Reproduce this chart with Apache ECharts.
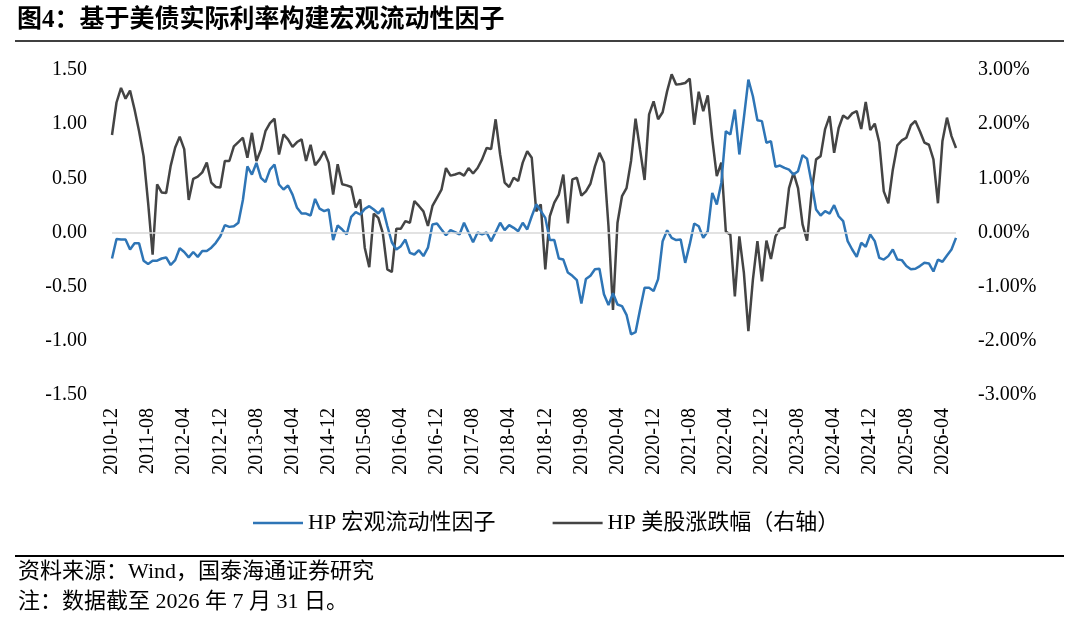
<!DOCTYPE html>
<html>
<head>
<meta charset="utf-8">
<title>图4：基于美债实际利率构建宏观流动性因子</title>
<script src="https://cdn.jsdelivr.net/npm/echarts@6/dist/echarts.min.js"></script>
<style>
  html, body { margin: 0; padding: 0; background: #fff; }
  #chart { width: 1080px; height: 621px; }
</style>
</head>
<body>
<div id="chart"></div>
<script>
// month categories 2010-12 .. 2026-07
const startYear = 2010, startMonth = 12;
const endYear = 2026, endMonth = 7;
const months = [];
for (let y = startYear, m = startMonth; y < endYear || (y === endYear && m <= endMonth); ) {
  months.push(y + '-' + (m < 10 ? '0' + m : m));
  m++;
  if (m > 12) { m = 1; y++; }
}

// HP 宏观流动性因子 (left axis)
const liquidityFactor = [
  -0.24, -0.06, -0.065, -0.065, -0.157, -0.10, -0.10, -0.26, -0.29, -0.26,
  -0.26, -0.24, -0.23, -0.30, -0.255, -0.145, -0.18, -0.23, -0.18, -0.225,
  -0.17, -0.17, -0.14, -0.095, -0.035, 0.068, 0.052, 0.058, 0.09, 0.30,
  0.61, 0.535, 0.643, 0.505, 0.465, 0.58, 0.628, 0.443, 0.397, 0.434,
  0.35, 0.228, 0.175, 0.175, 0.157, 0.31, 0.22, 0.197, 0.212, -0.07,
  0.065, 0.028, -0.018, 0.145, 0.188, 0.166, 0.218, 0.243, 0.212, 0.175,
  0.225, 0.06, -0.09, -0.157, -0.126, -0.065, -0.188, -0.203, -0.163, -0.218,
  -0.14, 0.074, 0.083, 0.028, -0.025, 0.022, 0.003, -0.018, 0.09, 0.0,
  -0.09, 0.0, -0.018, 0.0, -0.08, 0.003, 0.09, 0.022, 0.068, 0.043,
  0.012, 0.09, 0.028, 0.15, 0.26, 0.20, 0.135, -0.07, -0.07, -0.24,
  -0.25, -0.37, -0.40, -0.44, -0.655, -0.43, -0.40, -0.34, -0.335, -0.57,
  -0.67, -0.56, -0.665, -0.68, -0.76, -0.94, -0.92, -0.71, -0.51, -0.51,
  -0.54, -0.43, -0.08, 0.02, -0.05, -0.07, -0.065, -0.28, -0.11, 0.083,
  0.058, -0.05, 0.012, 0.366, 0.258, 0.458, 0.935, 0.905, 1.135, 0.72,
  1.058, 1.412, 1.258, 1.037, 1.028, 0.828, 0.843, 0.606, 0.618, 0.597,
  0.58, 0.535, 0.566, 0.714, 0.68, 0.458, 0.212, 0.157, 0.197, 0.175,
  0.252, 0.15, 0.105, -0.08, -0.157, -0.225, -0.095, -0.132, -0.018, -0.08,
  -0.234, -0.25, -0.218, -0.157, -0.25, -0.255, -0.31, -0.34, -0.335, -0.31,
  -0.28, -0.286, -0.36, -0.25, -0.27, -0.212, -0.157, -0.05
];

// HP 美股涨跌幅 (right axis, %)
const stockChange = [
  1.8, 2.4, 2.67, 2.47, 2.62, 2.27, 1.87, 1.41, 0.55, -0.41,
  0.89, 0.74, 0.73, 1.23, 1.57, 1.77, 1.54, 0.6, 0.99, 1.03,
  1.11, 1.29, 0.92, 0.84, 0.83, 1.32, 1.32, 1.59, 1.67, 1.75,
  1.38, 1.84, 1.32, 1.53, 1.87, 2.02, 2.10, 1.44, 1.81, 1.72,
  1.58, 1.67, 1.72, 1.32, 1.62, 1.24, 1.35, 1.50, 1.29, 0.70,
  1.26, 0.89, 0.87, 0.84, 0.46, 0.61, -0.28, -0.64, 0.35, 0.27,
  -0.01, -0.68, -0.73, 0.07, 0.07, 0.21, 0.18, 0.58, 0.49, 0.39,
  0.12, 0.49, 0.64, 0.79, 1.19, 1.05, 1.07, 1.10, 1.05, 1.19,
  1.09, 1.19, 1.35, 1.56, 1.54, 2.09, 1.44, 0.92, 0.84, 1.01,
  0.95, 1.29, 1.50, 1.38, 0.39, 0.52, -0.68, 0.30, 0.55, 0.70,
  1.07, 0.17, 0.98, 1.01, 0.68, 0.76, 0.90, 1.22, 1.47, 1.29,
  0.12, -1.43, 0.18, 0.67, 0.82, 1.32, 2.10, 1.53, 0.97, 2.18,
  2.42, 2.09, 2.22, 2.61, 2.92, 2.73, 2.74, 2.76, 2.84, 1.99,
  2.60, 2.24, 2.53, 1.73, 1.04, 1.29, 0.02, -0.04, -1.18, -0.07,
  -0.74, -1.82, -0.87, -0.16, -0.90, -0.15, -0.49, -0.07, 0.07, 0.09,
  0.82, 1.10, 0.82, 0.15, -0.15, 0.73, 1.35, 1.41, 1.91, 2.15,
  1.47, 1.93, 2.16, 2.10, 2.20, 2.24, 1.91, 2.41, 1.89, 2.01,
  1.66, 0.76, 0.54, 1.16, 1.61, 1.70, 1.75, 1.98, 2.06, 1.87,
  1.66, 1.62, 1.35, 0.54, 1.69, 2.12, 1.78, 1.56
];

const seriesNames = ['HP 宏观流动性因子', 'HP 美股涨跌幅（右轴）'];
const titleText = '图4：基于美债实际利率构建宏观流动性因子';
const sourceNote = '资料来源：Wind，国泰海通证券研究';
const dateNote = '注：数据截至 2026 年 7 月 31 日。';

const serif = '"Liberation Serif", "Noto Sans CJK SC", serif';
const blue = '#2E75B6';
const dark = '#444444';

const chart = echarts.init(document.getElementById('chart'));

chart.setOption({
  backgroundColor: '#fff',
  animation: false,
  grid: { left: 112, right: 124, top: 70, bottom: 226, containLabel: false },
  graphic: [
    {
      type: 'text', left: 17, top: 8,
      style: { text: titleText, font: 'bold 25px ' + serif, fill: '#000' }
    },
    {
      type: 'line', shape: { x1: 15, y1: 41, x2: 1064, y2: 41 },
      style: { stroke: '#000', lineWidth: 1.5 }
    },
    {
      type: 'line', shape: { x1: 15, y1: 556, x2: 1064, y2: 556 },
      style: { stroke: '#000', lineWidth: 2 }
    },
    {
      type: 'text', left: 18, top: 561,
      style: { text: sourceNote, font: '22px ' + serif, fill: '#000' }
    },
    {
      type: 'text', left: 18, top: 591,
      style: { text: dateNote, font: '22px ' + serif, fill: '#000' }
    }
  ],
  legend: {
    data: seriesNames,
    left: 248,
    top: 507,
    icon: 'rect',
    itemWidth: 50,
    itemHeight: 2.5,
    itemGap: 57,
    textStyle: { fontFamily: serif, fontSize: 22, color: '#000' }
  },
  xAxis: {
    type: 'category',
    data: months,
    boundaryGap: false,
    axisLine: { show: false, onZero: false },
    axisTick: { show: false },
    axisLabel: {
      interval: 7,
      rotate: 90,
      margin: 13,
      fontFamily: serif,
      fontSize: 20,
      color: '#000'
    },
    splitLine: { show: false }
  },
  yAxis: [
    {
      type: 'value',
      min: -1.5, max: 1.5, interval: 0.5,
      axisLine: { show: false },
      axisTick: { show: false },
      splitLine: { show: false },
      axisLabel: {
        margin: 25,
        fontFamily: serif, fontSize: 20, color: '#000',
        formatter: v => v.toFixed(2)
      }
    },
    {
      type: 'value',
      min: -3, max: 3, interval: 1,
      axisLine: { show: false },
      axisTick: { show: false },
      splitLine: { show: false },
      axisLabel: {
        margin: 22,
        fontFamily: serif, fontSize: 20, color: '#000',
        formatter: v => v.toFixed(2) + '%'
      }
    }
  ],
  series: [
    {
      name: seriesNames[0],
      type: 'line',
      yAxisIndex: 0,
      data: liquidityFactor,
      symbol: 'none',
      z: 3,
      lineStyle: { color: blue, width: 2.5 },
      itemStyle: { color: blue },
      markLine: {
        silent: true,
        symbol: 'none',
        label: { show: false },
        lineStyle: { color: '#d9d9d9', width: 1.5, type: 'solid' },
        data: [{ yAxis: 0 }]
      }
    },
    {
      name: seriesNames[1],
      type: 'line',
      yAxisIndex: 1,
      data: stockChange,
      symbol: 'none',
      z: 2,
      lineStyle: { color: dark, width: 2.5 },
      itemStyle: { color: dark }
    }
  ]
});
</script>
</body>
</html>
